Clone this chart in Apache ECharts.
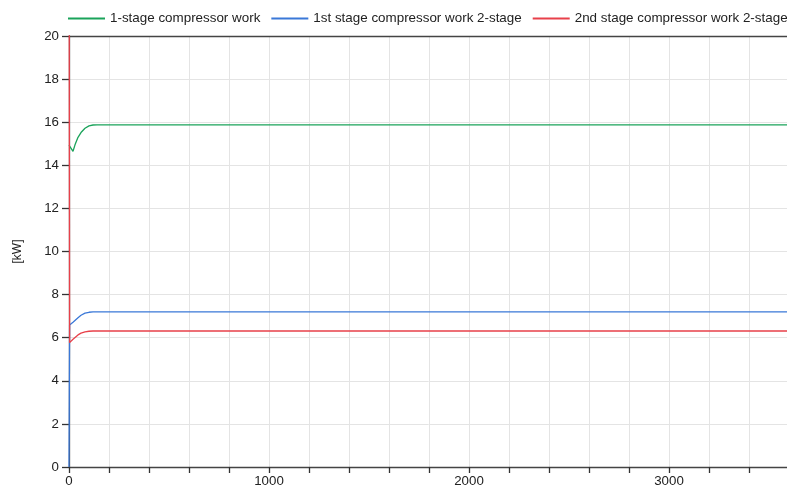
<!DOCTYPE html>
<html>
<head>
<meta charset="utf-8">
<script src="https://cdn.jsdelivr.net/npm/echarts@6/dist/echarts.min.js"></script>
<style>html,body{margin:0;padding:0;background:#fff;overflow:hidden}#c{width:787px;height:493px}</style>
</head>
<body>
<div id="c"></div>
<script>
var seriesNames = ['1-stage compressor work', '1st stage compressor work 2-stage', '2nd stage compressor work 2-stage'];
var colors = ['#1aa35a', '#3a78d8', '#e8404a'];

var timeGreen = [0, 5, 20, 30, 45, 60, 80, 100, 120, 140, 3600];
var valGreen  = [14.94, 14.85, 14.65, 14.95, 15.3, 15.52, 15.72, 15.83, 15.87, 15.88, 15.88];

var timeBlue = [0, 3, 20, 45, 60, 80, 100, 120, 140, 3600];
var valBlue  = [0, 6.59, 6.72, 6.93, 7.04, 7.14, 7.18, 7.2, 7.2, 7.2];

var timeRed = [0, 3, 20, 45, 60, 80, 100, 120, 140, 3600];
var valRed  = [30, 5.77, 5.93, 6.13, 6.21, 6.27, 6.3, 6.31, 6.31, 6.31];

var yTicks = [0, 2, 4, 6, 8, 10, 12, 14, 16, 18, 20];
var xLabelTicks = [0, 1000, 2000, 3000];

function pairs(t, v) { return t.map(function (x, i) { return [x, v[i]]; }); }

var font = 'Liberation Sans, Arial, sans-serif';
var chart = echarts.init(document.getElementById('c'), null, {renderer: 'canvas'});
chart.setOption({
  animation: false,
  color: colors,
  legend: {
    left: 68, top: 12, width: 1200, padding: 0,
    itemWidth: 37, itemHeight: 10, itemGap: 11,
    icon: 'path://M0,4 L36,4 L36,6 L0,6 Z',
    textStyle: {fontFamily: font, fontSize: 13.4, color: '#222'},
    data: seriesNames
  },
  grid: {left: 69, top: 36, width: 720, bottom: 26, containLabel: false, outerBoundsMode: 'none'},
  xAxis: [{
    type: 'value', min: 0, max: 3600, interval: 200,
    axisLine: {lineStyle: {color: '#444', width: 1.3}},
    axisTick: {length: 6, lineStyle: {color: '#333', width: 1.3}},
    splitLine: {lineStyle: {color: '#e4e4e4', width: 1}},
    axisLabel: {
      fontFamily: font, fontSize: 13.3, color: '#222', margin: 8,
      formatter: function (v) { return xLabelTicks.indexOf(v) >= 0 ? String(v) : ''; }
    }
  }, {
    type: 'value', position: 'top', min: 0, max: 3600,
    axisLine: {show: true, lineStyle: {color: '#444', width: 1.3}},
    axisTick: {show: false}, axisLabel: {show: false}, splitLine: {show: false}
  }],
  yAxis: {
    type: 'value', min: yTicks[0], max: yTicks[yTicks.length - 1], interval: 2,
    name: '[kW]', nameLocation: 'middle', nameGap: 45, nameRotate: 90,
    nameTextStyle: {fontFamily: font, fontSize: 12, color: '#222'},
    axisLine: {show: true, lineStyle: {color: '#444', width: 1.3}},
    axisTick: {show: true, length: 7, lineStyle: {color: '#333', width: 1.3}},
    splitLine: {lineStyle: {color: '#e4e4e4', width: 1}},
    axisLabel: {fontFamily: font, fontSize: 13.3, color: '#222', margin: 10}
  },
  series: [
    {name: seriesNames[0], type: 'line', showSymbol: false, symbol: 'none',
     lineStyle: {width: 1.3, color: colors[0]}, data: pairs(timeGreen, valGreen), z: 3},
    {name: seriesNames[1], type: 'line', showSymbol: false, symbol: 'none',
     lineStyle: {width: 1.3, color: colors[1]}, data: pairs(timeBlue, valBlue), z: 4},
    {name: seriesNames[2], type: 'line', showSymbol: false, symbol: 'none',
     lineStyle: {width: 1.3, color: colors[2]}, data: pairs(timeRed, valRed), z: 5}
  ]
});
</script>
</body>
</html>
